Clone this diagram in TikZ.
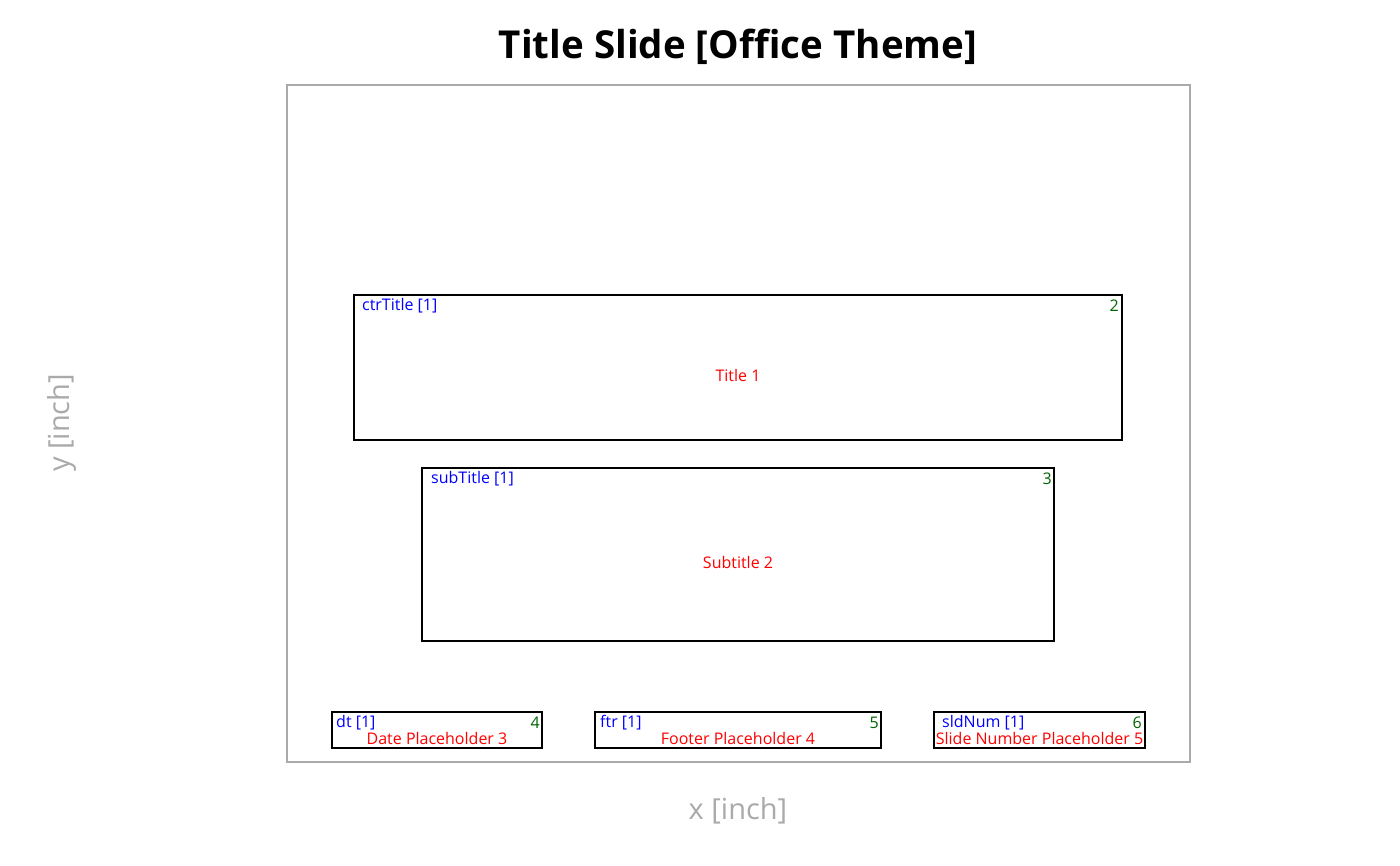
\documentclass[tikz,border=0pt]{standalone}
\usepackage{fontspec}
\setmainfont{Open Sans}
\usetikzlibrary{positioning}
\definecolor{axisgrey}{RGB}{170,170,170}
\definecolor{idgreen}{RGB}{0,100,0}
\tikzset{
  phbox/.style={draw=black, line width=1.6pt, minimum width=#1, inner sep=0pt},
  typelabel/.style={text=blue, font=\fontsize{16}{18}\selectfont, inner sep=0pt, anchor=west},
  idlabel/.style={text=idgreen, font=\fontsize{16}{18}\selectfont, inner sep=0pt, anchor=east},
  namelabel/.style={text=red, font=\fontsize{16}{18}\selectfont, inner sep=0pt},
  axislabel/.style={text=axisgrey, font=\fontsize{29}{33}\selectfont, inner sep=0pt}
}
\begin{document}
\begin{tikzpicture}[x=1pt, y=-1pt]
\useasboundingbox (0,0) rectangle (1400,866);
% title
\node[font=\bfseries\fontsize{38.5}{44}\selectfont, inner sep=0pt] (title) at (738,47) {Title Slide [Office Theme]};
% slide frame
\node[draw=axisgrey, line width=1.6pt, minimum width=903pt, minimum height=677pt, inner sep=0pt] (slide) at (738.5,423.5) {};
% axis labels
\node[axislabel] (xlab) at (738,811) {x [inch]};
\node[axislabel, rotate=90] (ylab) at (62,423) {y [inch]};
% placeholders
\node[phbox=768pt, minimum height=145pt] (ctr) at (738,367.5) {};
\node[phbox=632pt, minimum height=173pt] (sub) at (738,554.5) {};
\node[phbox=210pt, minimum height=36pt] (dt) at (437,730) {};
\node[phbox=286pt, minimum height=36pt] (ftr) at (738,730) {};
\node[phbox=211pt, minimum height=36pt] (sld) at (1039.5,730) {};
% labels
\node[typelabel] (ctrT) at (362,305.5) {ctrTitle [1]};
\node[idlabel] (ctrI) at (1119,305.5) {2};
\node[namelabel] (ctrN) at (738,375.5) {Title 1};
\node[typelabel] (subT) at (431,478.5) {subTitle [1]};
\node[idlabel] (subI) at (1052,478.5) {3};
\node[namelabel] (subN) at (738,562.5) {Subtitle 2};
\node[typelabel] (dtT) at (336,722.5) {dt [1]};
\node[idlabel] (dtI) at (540,722.5) {4};
\node[namelabel] (dtN) at (437,738.5) {Date Placeholder 3};
\node[typelabel] (ftrT) at (600,722.5) {ftr [1]};
\node[idlabel] (ftrI) at (879,722.5) {5};
\node[namelabel] (ftrN) at (738,738.5) {Footer Placeholder 4};
\node[typelabel] (sldT) at (942,722.5) {sldNum [1]};
\node[idlabel] (sldI) at (1142,722.5) {6};
\node[namelabel] (sldN) at (1039.5,738.5) {Slide Number Placeholder 5};
\end{tikzpicture}
\end{document}
